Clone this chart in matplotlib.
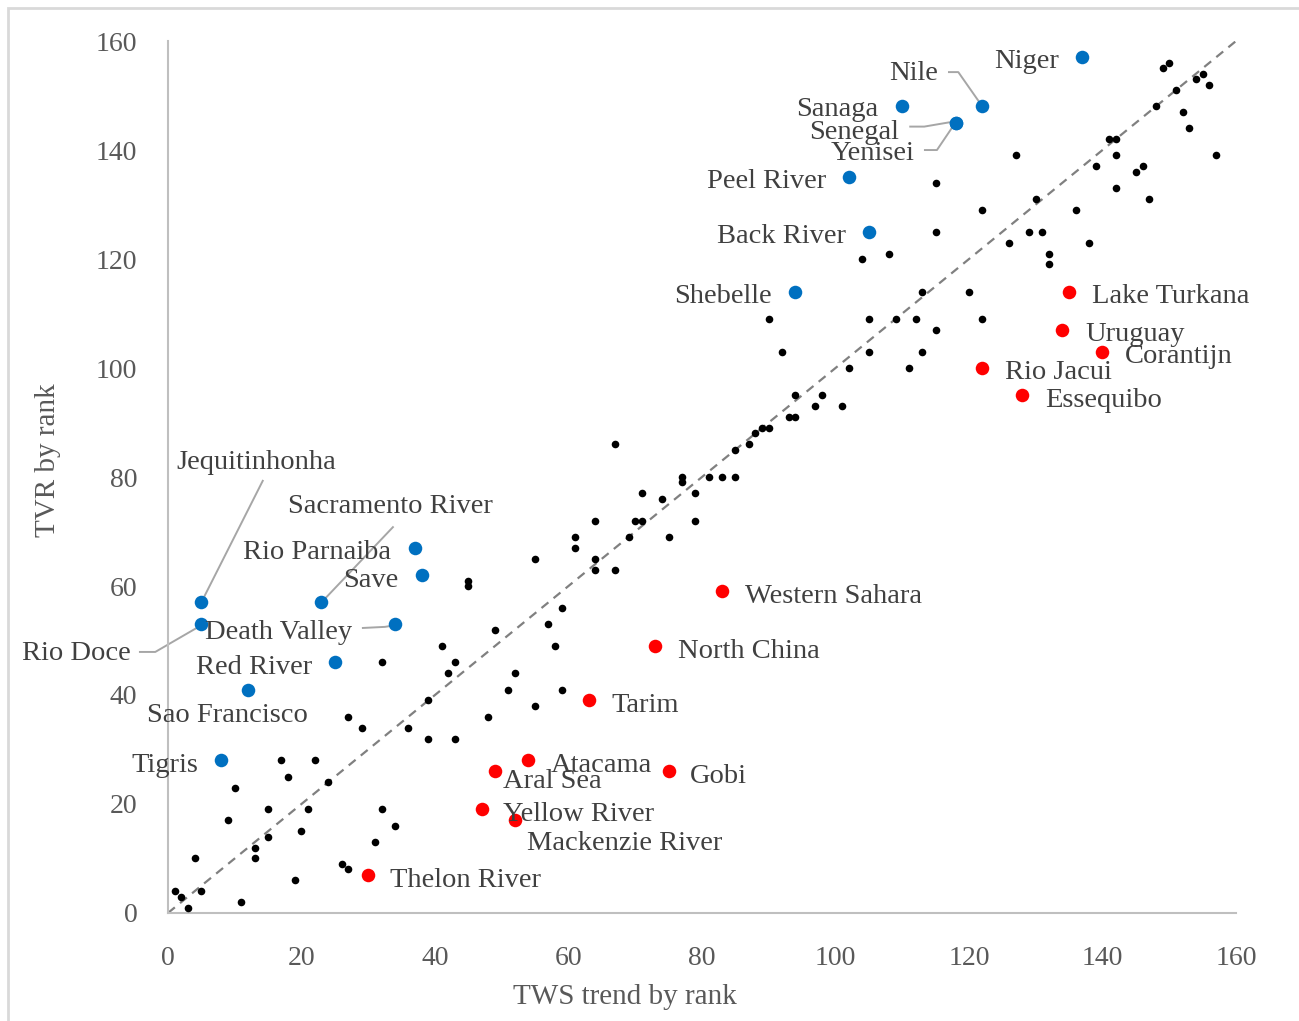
import matplotlib.pyplot as plt
from matplotlib.patches import Rectangle

plt.rcParams['font.family'] = ['Liberation Serif', 'DejaVu Serif']

# other basins (black)
other_x = [1, 2, 3, 4, 5, 10, 9, 11, 13, 13, 15, 15, 17, 18, 19, 20, 21, 22, 24, 26,
           27, 27, 29, 31, 32, 32, 34, 36, 39, 39, 41, 42, 43, 43, 45, 45, 48, 49, 52, 51,
           55, 55, 57, 58, 59, 59, 61, 61, 64, 64, 64, 67, 67, 69, 70, 71, 71, 74, 75, 77,
           77, 79, 79, 81, 83, 85, 85, 87, 88, 89, 90, 90, 92, 93, 94, 94, 97, 98, 101, 102,
           104, 105, 105, 108, 109, 111, 112, 113, 113, 115, 115, 115, 120, 122, 122, 126, 127, 129, 130, 131,
           132, 132, 136, 138, 139, 141, 142, 142, 142, 145, 146, 147, 148, 149, 150, 151, 152, 153, 154, 155,
           156, 157]
other_y = [4, 3, 1, 10, 4, 23, 17, 2, 12, 10, 19, 14, 28, 25, 6, 15, 19, 28, 24, 9,
           8, 36, 34, 13, 19, 46, 16, 34, 39, 32, 49, 44, 46, 32, 61, 60, 36, 52, 44, 41,
           65, 38, 53, 49, 56, 41, 69, 67, 72, 65, 63, 63, 86, 69, 72, 77, 72, 76, 69, 80,
           79, 77, 72, 80, 80, 85, 80, 86, 88, 89, 89, 109, 103, 91, 91, 95, 93, 95, 93, 100,
           120, 109, 103, 121, 109, 100, 109, 103, 114, 107, 125, 134, 114, 109, 129, 123, 139, 125, 131, 125,
           121, 119, 129, 123, 137, 142, 142, 139, 133, 136, 137, 131, 148, 155, 156, 151, 147, 144, 153, 154,
           152, 139]

# blue: TVR rank well above TWS rank
blue_names = ['Niger', 'Nile', 'Sanaga', 'Senegal', 'Yenisei', 'Peel River', 'Back River', 'Shebelle',
              'Jequitinhonha', 'Sacramento River', 'Rio Parnaiba', 'Save', 'Death Valley', 'Rio Doce',
              'Red River', 'Sao Francisco', 'Tigris']
blue_x = [137, 122, 110, 118, 118, 102, 105, 94, 5, 23, 37, 38, 34, 5, 25, 12, 8]
blue_y = [157, 148, 148, 145, 145, 135, 125, 114, 57, 57, 67, 62, 53, 53, 46, 41, 28]

# red: TVR rank well below TWS rank
red_names = ['Lake Turkana', 'Uruguay', 'Corantijn', 'Rio Jacui', 'Essequibo', 'Western Sahara',
             'North China', 'Tarim', 'Atacama', 'Aral Sea', 'Gobi', 'Yellow River',
             'Mackenzie River', 'Thelon River']
red_x = [135, 134, 140, 122, 128, 83, 73, 63, 54, 49, 75, 47, 52, 30]
red_y = [114, 107, 103, 100, 95, 59, 49, 39, 28, 26, 26, 19, 17, 7]

# label anchors (x, y, ha)
blue_lab = [(133.5, 156.2, 'right'), (115.4, 154.0, 'right'), (106.4, 147.4, 'right'),
            (109.5, 143.2, 'right'), (111.8, 139.3, 'right'), (98.6, 134.2, 'right'),
            (101.6, 124.1, 'right'), (90.5, 113.1, 'right'), (1.2, 82.6, 'left'),
            (18.0, 74.6, 'left'), (33.4, 66.1, 'right'), (34.5, 61.0, 'right'),
            (5.5, 51.4, 'left'), (-5.5, 47.6, 'right'), (21.6, 45.0, 'right'),
            (-3.1, 36.2, 'left'), (4.5, 27.0, 'right')]
red_lab = [(138.4, 113.1), (137.4, 106.1), (143.4, 102.1), (125.4, 99.1), (131.4, 94.0),
           (86.4, 58.0), (76.4, 48.0), (66.4, 38.0), (57.4, 27.0), (50.2, 24.1), (78.2, 25.0),
           (50.2, 18.0), (53.8, 12.7), (33.3, 5.9)]

# leader lines
leaders = [
    [(117.0, 154.3), (118.4, 154.3), (122, 148)],
    [(111.2, 144.3), (113.3, 144.3), (117.6, 145.2)],
    [(113.4, 140.0), (115.2, 140.0), (117.9, 144.9)],
    [(14.2, 79.3), (5, 57)],
    [(33.7, 70.8), (23, 57)],
    [(-4.2, 47.9), (-1.9, 47.9), (5, 52.8)],
    [(29.2, 52.3), (32.5, 52.5), (34, 52.8)],
]

fig = plt.figure(figsize=(12.99, 10.21), dpi=100)
ax = fig.add_axes([0.1293, 0.1058, 0.8222, 0.854])

fig.patches.append(Rectangle((8 / 1299, -0.1), 1.2, 1 - 8 / 1021 + 0.1, transform=fig.transFigure,
                             fill=False, edgecolor='#d9d9d9', linewidth=2))

ax.plot([0, 160], [0, 160], linestyle=(0, (4, 3)), color='#808080', linewidth=1.6, zorder=1)

for pts in leaders:
    ax.plot([p[0] for p in pts], [p[1] for p in pts], color='#a6a6a6', linewidth=1.4,
            clip_on=False, zorder=2)

ax.scatter(other_x, other_y, s=30, color='black', zorder=3, linewidths=0)
ax.scatter(blue_x, blue_y, s=95, color='#0070C0', zorder=4, linewidths=0)
ax.scatter(red_x, red_y, s=95, color='#FF0000', zorder=4, linewidths=0)

for name, (lx, ly, ha) in zip(blue_names, blue_lab):
    ax.text(lx, ly, name, ha=ha, va='center', fontsize=20.5, color='#404040', zorder=5, clip_on=False)
for name, (lx, ly) in zip(red_names, red_lab):
    ax.text(lx, ly, name, ha='left', va='center', fontsize=20.5, color='#404040', zorder=5, clip_on=False)

ax.set_xlim(0, 160)
ax.set_ylim(0, 160)
ax.set_xticks(range(0, 161, 20))
ax.set_yticks(range(0, 161, 20))
ax.tick_params(length=0, labelsize=20, labelcolor='#595959')
ax.tick_params(axis='y', pad=22)
ax.tick_params(axis='x', pad=24)
for s in ['top', 'right']:
    ax.spines[s].set_visible(False)
for s in ['left', 'bottom']:
    ax.spines[s].set_color('#bfbfbf')
    ax.spines[s].set_linewidth(1.5)

ax.set_xlabel('TWS trend by rank', fontsize=21, color='#595959')
ax.set_ylabel('TVR by rank', fontsize=21, color='#595959')
ax.xaxis.set_label_coords((625 - 168) / 1068, -(997 - 913) / 872, transform=ax.transAxes)
ax.yaxis.set_label_coords(-(168 - 48) / 1068, (913 - 460) / 872, transform=ax.transAxes)
ax.xaxis.label.set_va('center')
ax.yaxis.label.set_va('center')

fig.savefig('out.png', dpi=100)
